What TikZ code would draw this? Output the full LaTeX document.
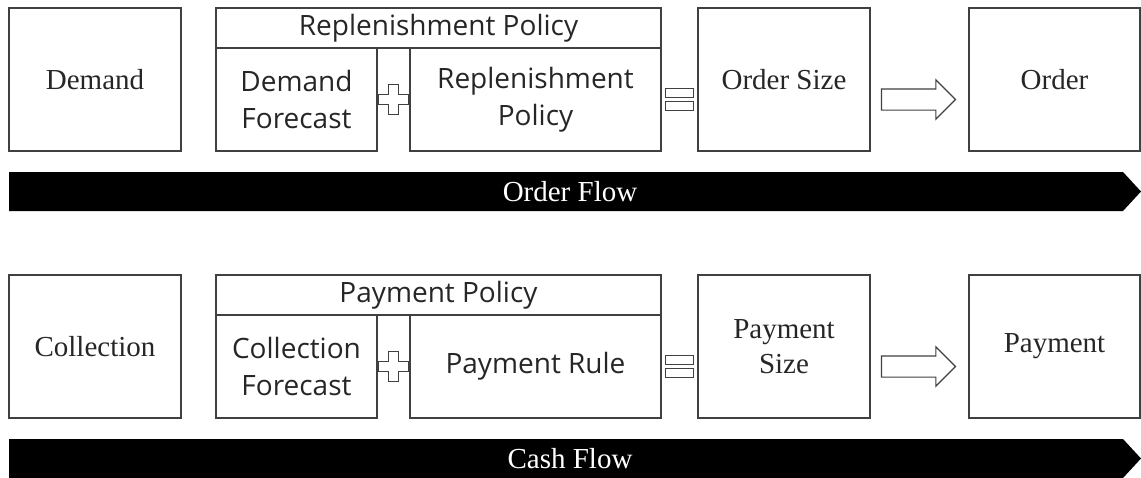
\documentclass[tikz,border=0pt]{standalone}
\usepackage{fontspec}
\setmainfont{Liberation Serif}
\newfontfamily\uifont{Open Sans}
\usetikzlibrary{calc,shapes.arrows}

\tikzset{
  box/.style={draw=black!75, line width=1.4pt, inner sep=0pt, align=center,
    text=black!85, font=\fontsize{29}{35}\selectfont},
  bigbox/.style={box, minimum width=172pt, minimum height=143pt},
  subbox/.style={box, minimum height=103pt, font=\uifont\fontsize{28}{37}\selectfont},
  headbox/.style={box, minimum height=40pt, font=\uifont\fontsize{28}{30}\selectfont},
  opsign/.style={draw=black!75, line width=1.2pt, fill=white},
  go/.style={single arrow, draw=black!75, line width=1.2pt, fill=white, anchor=tip,
    minimum height=74pt, inner sep=10pt, single arrow head extend=9pt},
  bandtext/.style={text=white, inner sep=0pt, font=\fontsize{29}{34}\selectfont}
}

\begin{document}
\begin{tikzpicture}[x=1pt, y=-1pt]
    \useasboundingbox (0,0) rectangle (1141,477);

    % Fila de pedidos
    \node[bigbox] (dem) at (95,79.5) {Demand};
    \node[headbox, minimum width=445pt] (rhead) at (438.5,28) {Replenishment Policy};
    \node[subbox, minimum width=161pt] (dfc) at (296.5,99.5) {Demand\\Forecast};
    \node[subbox, minimum width=251pt] (rpol) at (535.5,99.5) {Replenishment\\Policy};
    \node[bigbox] (osize) at (784,79.5) {Order Size};
    \node[bigbox, minimum width=171pt] (order) at (1054.5,79.5) {Order};

    % Signos
    \draw[opsign] ($(dfc.east)!0.5!(rpol.west)$) ++(-5,-15) -- ++(10,0) -- ++(0,10)
        -- ++(10,0) -- ++(0,10) -- ++(-10,0) -- ++(0,10) -- ++(-10,0) -- ++(0,-10)
        -- ++(-10,0) -- ++(0,-10) -- ++(10,0) -- cycle;
    \coordinate (eq1) at ($(rpol.east)!0.5!(osize.west |- rpol.east)$);
    \draw[opsign] ($(eq1)+(-14,-11)$) rectangle ($(eq1)+(14,-2)$);
    \draw[opsign] ($(eq1)+(-14,2)$) rectangle ($(eq1)+(14,11)$);
    \node[go] (go1) at ($(order.west |- rpol.east)+(-12,0)$) {};

    % Flujo de pedidos
    \fill (9,172) -- (1123,172) -- (1141,191.5) -- (1123,211) -- (9,211) -- cycle;
    \node[bandtext] (oflow) at (570,191.5) {Order Flow};

    % Fila de pagos
    \node[bigbox] (coll) at (95,346.5) {Collection};
    \node[headbox, minimum width=445pt] (phead) at (438.5,295) {Payment Policy};
    \node[subbox, minimum width=161pt] (cfc) at (296.5,366.5) {Collection\\Forecast};
    \node[subbox, minimum width=251pt] (prule) at (535.5,366.5) {Payment Rule};
    \node[bigbox] (psize) at (784,346.5) {Payment\\Size};
    \node[bigbox, minimum width=171pt] (pay) at (1054.5,346.5) {Payment};

    % Signos
    \draw[opsign] ($(cfc.east)!0.5!(prule.west)$) ++(-5,-15) -- ++(10,0) -- ++(0,10)
        -- ++(10,0) -- ++(0,10) -- ++(-10,0) -- ++(0,10) -- ++(-10,0) -- ++(0,-10)
        -- ++(-10,0) -- ++(0,-10) -- ++(10,0) -- cycle;
    \coordinate (eq2) at ($(prule.east)!0.5!(psize.west |- prule.east)$);
    \draw[opsign] ($(eq2)+(-14,-11)$) rectangle ($(eq2)+(14,-2)$);
    \draw[opsign] ($(eq2)+(-14,2)$) rectangle ($(eq2)+(14,11)$);
    \node[go] (go2) at ($(pay.west |- prule.east)+(-12,0)$) {};

    % Flujo de caja
    \fill (9,439) -- (1123,439) -- (1141,458.5) -- (1123,478) -- (9,478) -- cycle;
    \node[bandtext] (cflow) at (570,458.5) {Cash Flow};
\end{tikzpicture}
\end{document}
